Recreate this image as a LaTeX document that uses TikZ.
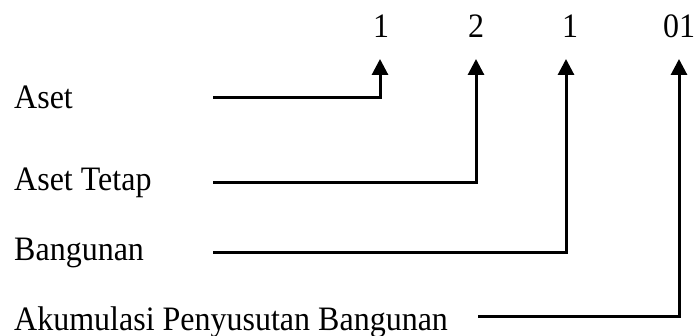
\documentclass[tikz,border=0pt]{standalone}
\usepackage{fontspec}
\setmainfont{Liberation Serif}
\usetikzlibrary{arrows.meta}
\newcommand{\tallt}[1]{\scalebox{1}[1.07]{#1}}
\tikzset{
  lbl/.style={anchor=base west, inner sep=0pt, font=\fontsize{32}{38}\selectfont},
  digit/.style={anchor=base, inner sep=0pt, font=\fontsize{32}{38}\selectfont},
  conn/.style={line width=3pt, -{Triangle[length=16pt,width=16pt]}}
}
\begin{document}
\begin{tikzpicture}[x=1pt,y=-1pt]
\useasboundingbox (0,0) rectangle (695,336);
% digits
\node[digit] (d1) at (381,38) {\tallt{1}};
\node[digit] (d2) at (476,38) {\tallt{2}};
\node[digit] (d3) at (570,38) {\tallt{1}};
\node[digit] (d4) at (679,38) {\tallt{01}};
% labels
\node[lbl] (l1) at (14,109) {\tallt{Aset}};
\node[lbl] (l2) at (14,191) {\tallt{Aset Tetap}};
\node[lbl] (l3) at (14,261) {\tallt{Bangunan}};
\node[lbl] (l4) at (14,330) {\tallt{Akumulasi Penyusutan Bangunan}};
% line starts
\coordinate (s1) at (213,98);
\coordinate (s2) at (213,183);
\coordinate (s3) at (213,253);
\coordinate (s4) at (478,316);
% arrow tips
\coordinate (t1) at (380,59);
\coordinate (t2) at (476,59);
\coordinate (t3) at (566,59);
\coordinate (t4) at (679,59);
\draw[conn] (s1) -| (t1);
\draw[conn] (s2) -| (t2);
\draw[conn] (s3) -| (t3);
\draw[conn] (s4) -| (t4);
\end{tikzpicture}
\end{document}
